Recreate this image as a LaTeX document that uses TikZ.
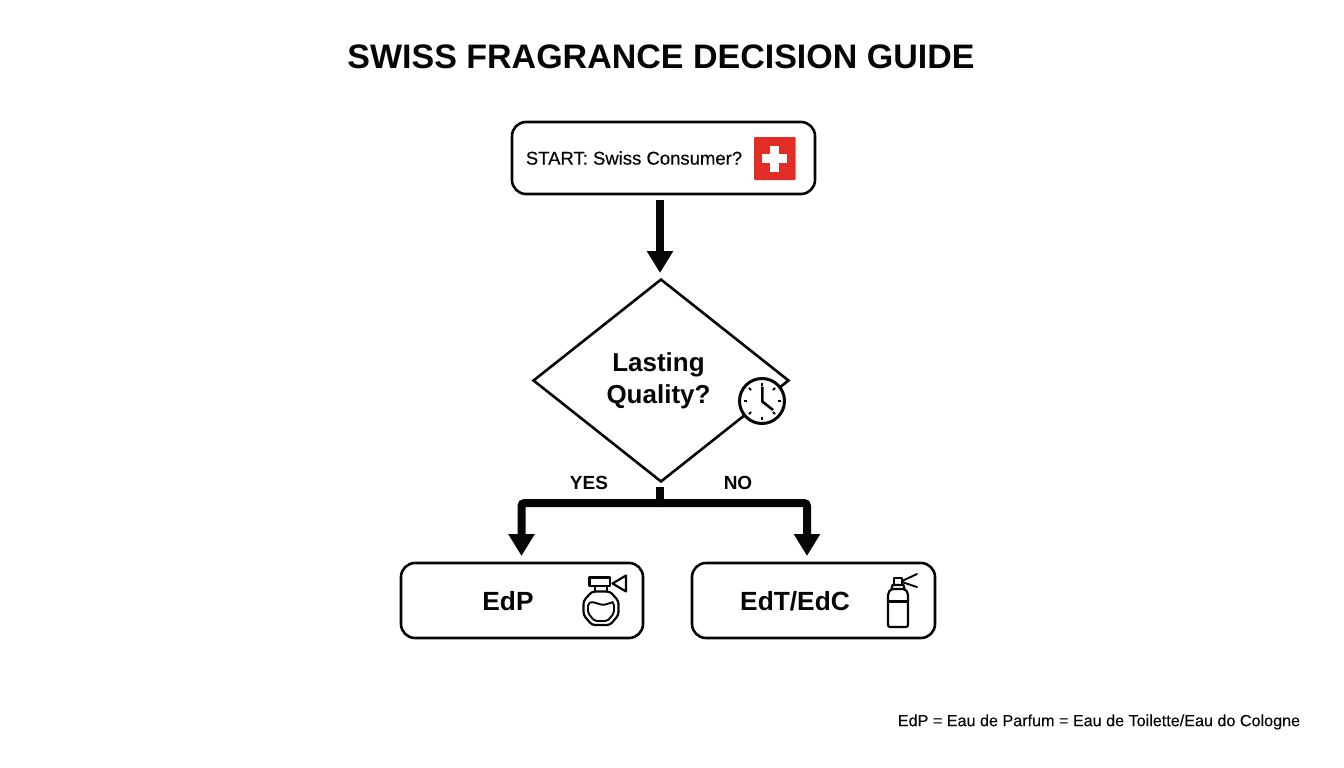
\documentclass[tikz,border=0pt]{standalone}
\usepackage{fontspec}
\setmainfont{Liberation Sans}
\newfontfamily\medfont[FakeBold=0.35]{Liberation Sans}
\newfontfamily\lightmed[FakeBold=0.2]{Liberation Sans}
\usetikzlibrary{shapes.geometric,arrows.meta,calc}
\definecolor{ink}{HTML}{060606}
\definecolor{swissred}{HTML}{E22D26}
\tikzset{
  boxnode/.style={draw=ink,line width=2.6pt,rounded corners=14pt,fill=white,inner sep=0pt},
  decnode/.style={shape=diamond,draw=ink,line width=2.6pt,fill=white,inner sep=0pt,minimum width=256pt,minimum height=203pt},
  fatarrow/.style={draw=ink,line width=8pt,-{Triangle[length=22pt,width=25pt]}},
  txt/.style={text=ink,inner sep=0pt,align=center},
  icon/.style={draw=ink,line width=2.2pt,line join=round,line cap=round},
}
\begin{document}
\begin{tikzpicture}[x=1pt,y=-1pt]
\useasboundingbox (0,0) rectangle (1344,768);
\node[txt,font=\bfseries\fontsize{34}{38}\selectfont] (title) at (661,57) {SWISS FRAGRANCE DECISION GUIDE};
% nodes
\node[boxnode,minimum width=303pt,minimum height=72pt] (start) at (663.5,158) {};
\node[txt,font=\medfont\fontsize{18.5}{22}\selectfont] (starttext) at (634,158) {START: Swiss Consumer?};
\node[decnode] (q) at (661,380.5) {};
\node[txt,font=\bfseries\fontsize{26}{32}\selectfont] (qtext) at (658.5,380.5) {Lasting\\Quality?};
\node[boxnode,minimum width=242pt,minimum height=75pt] (edp) at (522,600.5) {};
\node[boxnode,minimum width=243pt,minimum height=75pt] (edt) at (813.5,600.5) {};
\node[txt,font=\bfseries\fontsize{26.3}{32}\selectfont] (edptext) at (508,601) {EdP};
\node[txt,font=\bfseries\fontsize{26.3}{32}\selectfont] (edttext) at (795,601) {EdT/EdC};
\node[txt,font=\bfseries\fontsize{19}{22}\selectfont] (yes) at (589,482.5) {YES};
\node[txt,font=\bfseries\fontsize{19}{22}\selectfont] (no) at (738,482.5) {NO};
\node[txt,font=\lightmed\fontsize{16.15}{20}\selectfont] (legend) at (1099,722) {EdP = Eau de Parfum = Eau de Toilette/Eau do Cologne};
% connectors
\coordinate (qin) at (660,279);
\coordinate (edtin) at (807,563);
\coordinate (edpin) at (521.5,563);
\coordinate (qout) at (660,482);
\coordinate (fork) at (660,503);
\draw[fatarrow,shorten <=5pt,shorten >=6pt] (start.south -| qin) -- (qin);
\draw[draw=ink,line width=8pt,shorten <=5pt] (qout) -- (fork);
\draw[draw=ink,line width=8pt,rounded corners=3pt,shorten >=7pt,-{Triangle[length=22pt,width=25pt]}] (fork) -| (edpin);
\draw[draw=ink,line width=8pt,rounded corners=3pt,shorten >=7pt,-{Triangle[length=22pt,width=25pt]}] (fork) -| (edtin);
% Swiss flag
\fill[swissred,rounded corners=1pt] (754,137) rectangle (795.5,180);
\fill[white] (762,154) rectangle (787,163);
\fill[white] (770,145.5) rectangle (779,172);
% clock
\draw[draw=ink,line width=3pt,fill=white] (762,401) circle (22.5pt);
\foreach \a in {0,45,...,315}
  \draw[draw=ink,line width=1.9pt] ($(762,401)+(\a:15.5pt)$) -- ($(762,401)+(\a:18.5pt)$);
\draw[icon,line width=2.6pt,line cap=butt] (762.3,386.5) -- (762.3,401.5) -- (773,410);
% perfume icon
\draw[icon] (589.5,577.5) rectangle (610,586);
\draw[icon] (612.5,583.5) -- (626,575.5) -- (626,591.5) -- cycle;
\draw[icon] (595,586) -- (595,591.5) (607,586) -- (607,591.5);
\draw[icon,rounded corners=3pt] (592,591.5) -- (610,591.5) -- (618.5,601) -- (618.5,615) -- (610,625) -- (592,625) -- (583.5,615) -- (583.5,601) -- cycle;
\draw[icon,line width=1.9pt,rounded corners=2pt] (588,603.5) .. controls (594,600.5) and (600,606) .. (607,604) .. controls (610,603) and (613,602.5) .. (614,603.5) -- (614,613) -- (607.5,621) -- (594.5,621) -- (588,613) -- cycle;
% spray icon
\draw[icon,rounded corners=2pt] (891,589) -- (888,593) -- (888,627) -- (908,627) -- (908,593) -- (905,589) -- cycle;
\draw[icon] (888,601.5) -- (908,601.5);
\draw[icon] (894,578) rectangle (902,585);
\draw[icon] (892.5,585) -- (903.5,585) -- (904.5,589) (892.5,585) -- (891.5,589);
\draw[icon,line width=1.9pt] (902,581) -- (917,574) (902,582) -- (917,587);
\end{tikzpicture}
\end{document}
